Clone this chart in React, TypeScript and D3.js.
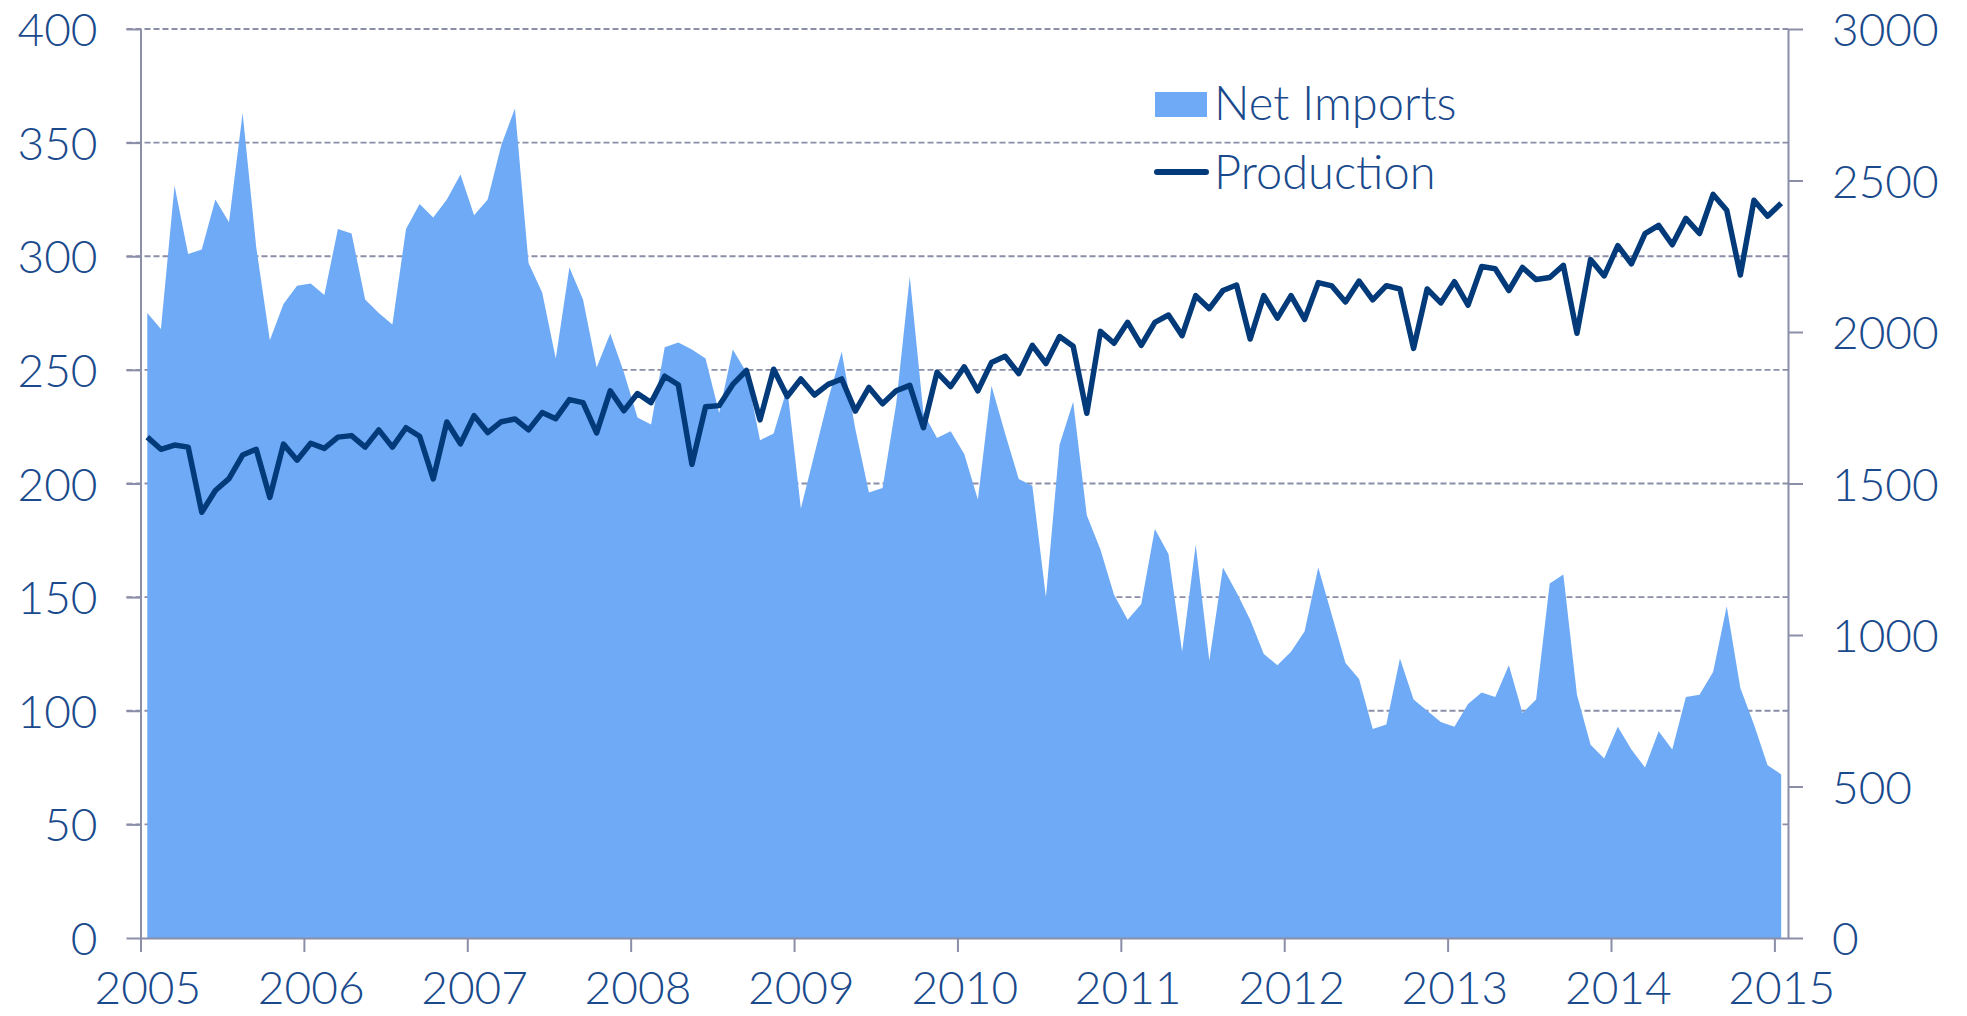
import React, { useRef, useEffect } from "react";
import * as d3 from "d3";

// monthly values, Jan 2005 .. Jan 2015
const netImports = [
  275, 268, 331, 301, 303, 325, 315, 363, 304, 263, 279, 287,
  288, 283, 312, 310, 281, 275, 270, 312, 323, 317, 325, 336,
  318, 325, 349, 365, 297, 284, 255, 295, 281, 251, 266, 249,
  229, 226, 260, 262, 259, 255, 231, 259, 249, 219, 222, 242,
  189, 213, 237, 258, 224, 196, 198, 235, 291, 231, 220, 223,
  213, 193, 243, 222, 202, 199, 150, 217, 236, 186, 171, 151,
  140, 147, 180, 169, 126, 173, 122, 163, 152, 140, 125, 120,
  126, 135, 163, 142, 121, 114, 92, 94, 123, 105, 100, 95,
  93, 103, 108, 106, 120, 99, 105, 156, 160, 107, 85, 79,
  93, 83, 75, 91, 83, 106, 107, 117, 146, 110, 94, 76,
  72,
];

const production = [
  1653, 1613, 1627, 1620, 1405, 1477, 1516, 1594, 1613, 1454, 1630, 1577,
  1633, 1616, 1653, 1658, 1620, 1677, 1620, 1684, 1656, 1515, 1703, 1631,
  1724, 1668, 1704, 1713, 1677, 1734, 1714, 1777, 1767, 1667, 1806, 1740,
  1797, 1767, 1854, 1826, 1563, 1753, 1757, 1827, 1873, 1710, 1877, 1787,
  1845, 1792, 1827, 1845, 1739, 1817, 1763, 1806, 1824, 1684, 1867, 1820,
  1885, 1806, 1899, 1920, 1863, 1956, 1896, 1985, 1953, 1732, 2002, 1963,
  2032, 1956, 2032, 2056, 1988, 2120, 2077, 2137, 2155, 1977, 2120, 2046,
  2120, 2042, 2163, 2152, 2099, 2168, 2106, 2153, 2142, 1946, 2142, 2096,
  2166, 2089, 2216, 2209, 2137, 2213, 2173, 2180, 2220, 1996, 2239, 2185,
  2285, 2225, 2325, 2352, 2288, 2375, 2325, 2454, 2402, 2188, 2435, 2382,
  2425,
];

const yearLabels = ["2005", "2006", "2007", "2008", "2009", "2010", "2011", "2012", "2013", "2014", "2015"];
const leftTicks = [0, 50, 100, 150, 200, 250, 300, 350, 400];
const rightTicks = [0, 500, 1000, 1500, 2000, 2500, 3000];

const areaColor = "#6eaaf5";
const lineColor = "#033a7a";
const axisColor = "#8a8ea8";
const textColor = "#1a4a8c";
const font = "Lato, 'Open Sans', sans-serif";

const App = () => {
  const svgRef = useRef<SVGSVGElement>(null);
  const width = 1967;
  const height = 1016;
  const left = 140.5;
  const right = 1788;
  const top = 29;
  const bottom = 938;

  useEffect(() => {
    const svg = d3.select(svgRef.current);
    svg.selectAll("*").remove();

    const n = netImports.length;
    const x = d3.scaleLinear().domain([0, n]).range([left, right]);
    const mid = (i: number) => x(i + 0.5);
    const yL = d3.scaleLinear().domain([0, 400]).range([bottom, top]);
    const yR = d3.scaleLinear().domain([0, 3000]).range([bottom, top]);

    // dashed gridlines behind the area
    svg
      .append("g")
      .selectAll("line")
      .data(leftTicks.filter((v) => v > 0))
      .join("line")
      .attr("x1", left - 14)
      .attr("x2", right)
      .attr("y1", (d) => yL(d))
      .attr("y2", (d) => yL(d))
      .attr("stroke", axisColor)
      .attr("stroke-width", 1.8)
      .attr("stroke-dasharray", "6,3");

    const area = d3
      .area<number>()
      .x((d, i) => mid(i))
      .y0(yL(0))
      .y1((d) => yL(d));

    svg.append("path").datum(netImports).attr("fill", areaColor).attr("d", area);

    const styleAxis = (g: any, size: number) => {
      g.attr("font-family", font).attr("font-size", size).attr("font-weight", 300);
      g.select(".domain").attr("stroke", axisColor).attr("stroke-width", 2);
      g.selectAll(".tick line").attr("stroke", axisColor).attr("stroke-width", 2);
      g.selectAll("text").attr("fill", textColor);
    };

    const gL = svg
      .append("g")
      .attr("transform", `translate(${left},0)`)
      .call(d3.axisLeft(yL).tickValues(leftTicks).tickSize(14).tickSizeOuter(0).tickPadding(29));
    styleAxis(gL, 46);
    gL.selectAll("text").attr("dy", "0.36em");

    const gR = svg
      .append("g")
      .attr("transform", `translate(${right},0)`)
      .call(
        d3
          .axisRight(yR)
          .tickValues(rightTicks)
          .tickFormat(d3.format("d"))
          .tickSize(15)
          .tickSizeOuter(0)
          .tickPadding(29)
      );
    styleAxis(gR, 46);
    gR.selectAll("text").attr("dy", "0.36em");

    const gB = svg
      .append("g")
      .attr("transform", `translate(0,${bottom})`)
      .call(
        d3
          .axisBottom(x)
          .tickValues(yearLabels.map((_, k) => k * 12))
          .tickFormat((d, k) => yearLabels[k])
          .tickSize(14)
          .tickSizeOuter(0)
      );
    styleAxis(gB, 46);
    gB.selectAll("text")
      .attr("x", mid(0) - x(0))
      .attr("y", 66)
      .attr("dy", 0);

    const line = d3
      .line<number>()
      .x((d, i) => mid(i))
      .y((d) => yR(d));

    svg
      .append("path")
      .datum(production)
      .attr("fill", "none")
      .attr("stroke", lineColor)
      .attr("stroke-width", 5.5)
      .attr("stroke-linejoin", "round")
      .attr("d", line);

    // legend
    const lg = svg.append("g").attr("font-family", font).attr("font-size", 47).attr("font-weight", 300);
    lg.append("rect").attr("x", 1155).attr("y", 92).attr("width", 52).attr("height", 25).attr("fill", areaColor);
    lg.append("text").attr("x", 1214).attr("y", 120).attr("fill", textColor).text("Net Imports");
    lg.append("line")
      .attr("x1", 1157)
      .attr("x2", 1206)
      .attr("y1", 172)
      .attr("y2", 172)
      .attr("stroke", lineColor)
      .attr("stroke-width", 6)
      .attr("stroke-linecap", "round");
    lg.append("text").attr("x", 1214).attr("y", 189).attr("fill", textColor).text("Production");
  }, []);

  return (
    <div>
      <svg
        ref={svgRef}
        width={width}
        height={height}
        style={{ position: "absolute", left: 0, top: 0, background: "#fff", display: "block" }}
      />
    </div>
  );
};

export default App;
